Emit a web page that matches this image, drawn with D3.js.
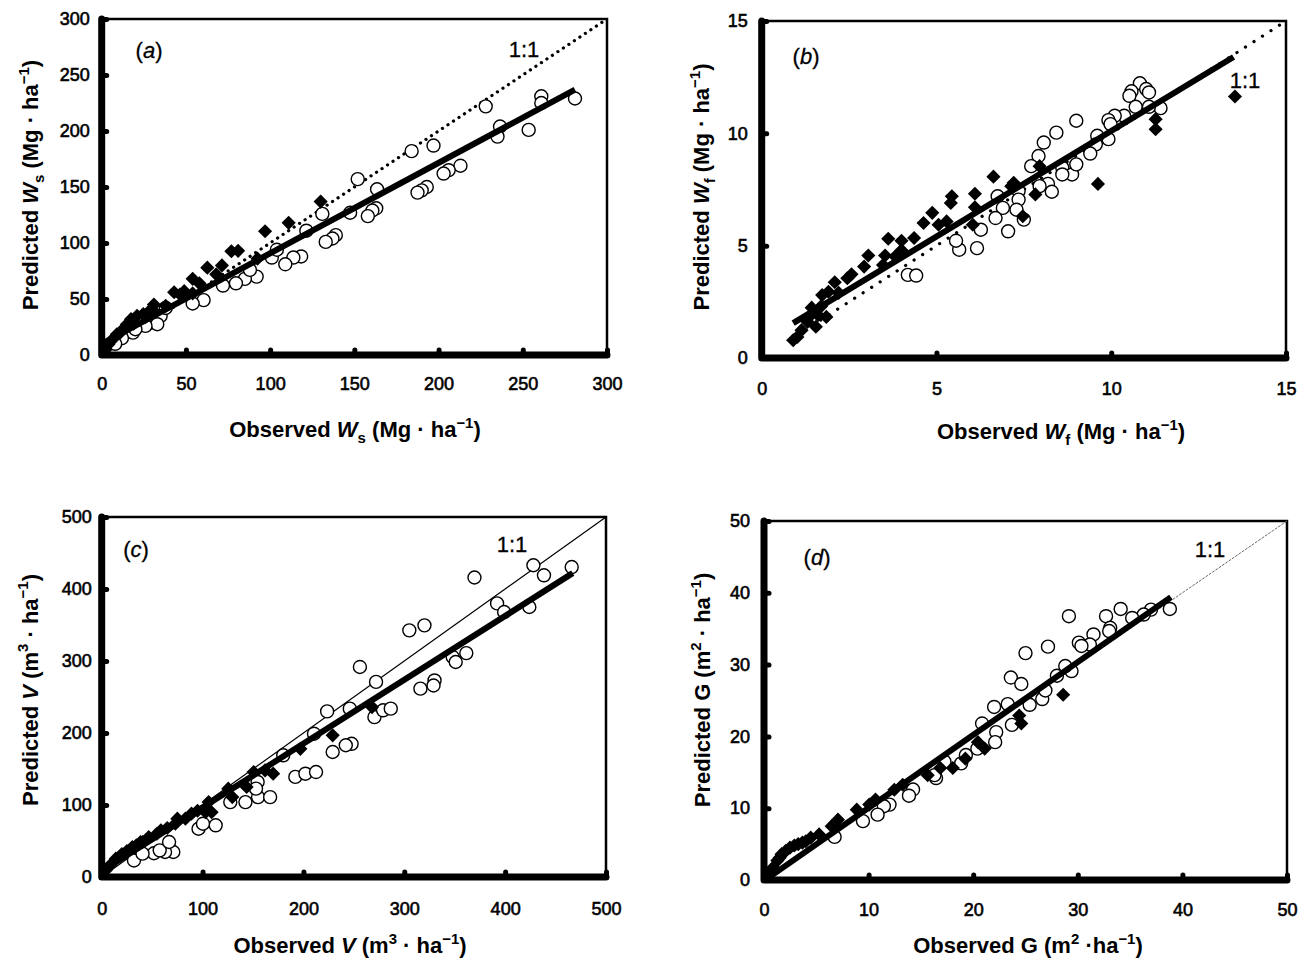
<!DOCTYPE html>
<html>
<head>
<meta charset="utf-8">
<script src="https://cdn.jsdelivr.net/npm/d3@7"></script>
<style>
  html, body { margin: 0; padding: 0; background: #fff; }
  svg { display: block; }
</style>
</head>
<body>
<svg id="fig" width="1305" height="967"></svg>
<script>
// ---------------- data ----------------
// (a) stem biomass Ws, Mg/ha
const ticksWs = [0, 50, 100, 150, 200, 250, 300];
const wsOpen = [
  [281,229],[261,231],[261,225],[253.5,201],[236.5,204],[235,195],[228,222],
  [197,187],[184,182],[213,169],[206,165],[203,162],[193,150],[190,147],[187.5,145],
  [152,157],[163.5,148],[163,131],[160.7,129],[158,124],[147.5,127],[131,126],
  [139,107],[137,104],[133,101],[121.5,111],[118.4,88],[113.8,87],[109,81],
  [101,87],[104,94],[92,70],[85,68],[79.7,64],[72,62],[88,76],[60.5,49],[54,46],
  [34,39],[35,35],[29.5,29],[33,27.5],[26,26],[18.6,20],[20,23],[38,42],[12,15],[8,10]
];
const wsSolid = [
  [130,137],[111,118],[97,110.5],[81,93],[77,92.6],[71.4,80],[62.7,78],[54,68],
  [58,64],[68,72],[43,56],[46.5,54],[49,57],[54,55],[31,45],[29.5,41],[24.7,36.5],
  [21,35],[17.4,32],[15,27.5],[12.6,23],[9,18.5],[6.5,14],[4,9.5],[2.4,5],[92.5,86],
  [38,44],[26,34],[19,28],[11,20]
];
const wsFit = [[0, 10], [281, 237]];
const wsOneToOne = [[0, 0], [300, 300]];

// (b) foliage biomass Wf, Mg/ha
const ticksWf = [0, 5, 10, 15];
const wfOpen = [
  [10.82,12.23],[10.58,11.87],[11.0,11.97],[11.08,11.82],[10.52,11.67],[10.7,11.18],
  [11.41,11.12],[11.08,11.18],[10.37,10.78],[10.1,10.78],[9.92,10.59],[9.98,10.41],
  [9.92,9.74],[9.6,9.89],[9.56,9.51],[9.4,9.1],[9.0,10.56],[8.43,10.03],[8.07,9.59],
  [7.92,8.99],[7.71,8.54],[8.6,8.47],[8.88,8.17],[8.6,8.17],[9.0,8.62],[8.19,7.75],
  [8.3,7.4],[7.95,7.65],[7.35,7.43],[7.35,7.05],[7.29,6.6],[7.5,6.16],[6.75,7.2],
  [6.9,6.68],[6.69,6.23],[7.05,5.64],[6.27,5.71],[6.16,4.89],[5.65,4.82],[5.56,5.22],
  [4.18,3.7],[4.42,3.67]
];
const wfSolid = [
  [13.54,11.64],[11.27,10.63],[11.27,10.18],[9.62,7.75],[7.95,8.54],[7.83,7.28],
  [7.47,6.31],[7.21,7.8],[7.14,7.65],[6.63,8.07],[6.1,7.31],[6.1,6.71],[6.04,5.93],
  [5.44,7.2],[5.41,6.9],[5.29,6.08],[5.06,5.93],[4.88,6.46],[4.63,6.01],[4.36,5.34],
  [4.0,5.22],[3.62,5.31],[3.53,4.56],[3.05,4.56],[2.93,4.07],[2.57,3.73],[2.09,3.37],
  [1.91,2.95],[1.73,2.8],[1.43,2.24],[1.61,1.91],[1.31,1.61],[1.55,1.39],[1.14,1.24],
  [0.9,0.79],[1.02,0.94],[1.85,1.83],[2.45,3.55],[3.47,4.14],[3.82,4.52],[4.0,4.8],
  [1.7,2.3],[2.2,2.9],[1.4,1.9]
];
const wfFit = [[0.9, 1.55], [13.5, 13.4]];
const wfOneToOne = [[1.2, 1.2], [15, 15]];

// (c) stand volume V, m3/ha
const ticksV = [0, 100, 200, 300, 400, 500];
const vOpen = [
  [466,430.5],[428,433],[438.5,419],[369.6,416],[424,375],[392,380],[399,368],
  [320,349.5],[305,342.6],[361.5,311],[348,305.6],[351,298.6],[256,291.7],[272,271],
  [330,273],[329,266],[316,261.6],[246,233.8],[223.5,230],[270.4,222],[279,231.5],
  [286.6,233.8],[210.5,199],[247.8,185],[242,183],[229,173.6],[180,169],[192,139],
  [202,143.5],[212.5,145.8],[154.6,132],[155,111],[167,111],[142.5,104],[127.5,104],
  [153,122.7],[113,71.8],[96,67],[100.4,74],[71,34.7],[62.8,34.7],[51.8,33],[57.5,37],
  [66.8,48.6],[32,23],[40.5,32.4]
];
const vSolid = [
  [268,236],[229,196.8],[197,178],[170,143.5],[162,148],[150.6,145.8],[143.7,125],
  [129.5,111],[125.5,122.7],[103,90],[109,90],[106,104],[89,88],[83,81],[75,81],
  [73,74],[58.7,64.8],[54.7,60],[46.6,55.6],[38.5,48.6],[30.4,41.7],[20,32],[14,25.5],
  [8,16],[4,9.3],[34.4,44],[40.5,48.6],[25,36],[65,68],[95,92]
];
const vFit = [[0, 8], [467, 422]];
const vOneToOne = [[0, 0], [500, 500]];

// (d) basal area G, m2/ha
const ticksG = [0, 10, 20, 30, 40, 50];
const gOpen = [
  [38.8,37.75],[37.0,37.66],[36.3,36.97],[35.2,36.5],[34.1,37.75],[32.7,36.74],
  [29.15,36.74],[33.1,35.13],[33.0,34.67],[31.5,34.2],[31.15,32.8],[30.1,33.06],
  [30.35,32.6],[27.15,32.5],[25.0,31.6],[23.6,28.2],[24.6,27.3],[29.4,29.1],[28.8,29.8],
  [28.0,28.45],[25.4,24.4],[26.6,25.2],[26.9,26.4],[23.3,24.5],[22.0,24.1],[22.2,20.6],
  [22.1,19.2],[20.85,21.8],[23.7,21.6],[20.4,18.3],[19.3,17.4],[18.85,16.25],
  [17.25,16.5],[16.45,14.2],[16.3,14.6],[14.25,12.6],[13.86,11.74],[12.0,10.5],
  [11.46,10.27],[10.86,9.1],[9.46,8.2],[6.75,6.0]
];
const gSolid = [
  [28.6,25.8],[24.4,22.9],[24.6,21.8],[21.1,18.3],[20.45,19.2],[19.25,16.9],
  [18.05,15.6],[16.85,15.6],[15.65,14.6],[13.26,13.26],[12.46,12.57],[10.66,11.2],
  [10.06,10.5],[8.87,9.8],[7.07,8.4],[6.47,7.5],[5.27,6.35],[4.47,5.9],[3.27,5.0],
  [2.48,4.5],[1.68,3.6],[1.28,2.7],[0.88,1.75],[0.48,0.8],[3.67,5.2],[2.08,4.05],
  [4.0,5.4],[2.9,4.8],[1.5,3.1]
];
const gFit = [[0.5, 0.4], [38.9, 39.4]];
const gOneToOne = [[0, 0], [50, 50]];

// ---------------- panel layout ----------------
const panels = [
  {
    tag: "a", max: 300, ticks: ticksWs, open: wsOpen, solid: wsSolid, fit: wsFit, ref: wsOneToOne,
    box: { left: 101.7, right: 607, top: 19, bottom: 355 },
    refStyle: { width: 3.2, dash: "0.1,6.5", color: "#000" },
    xPad: 22, yPad: 12,
    tagPos: [149, 58], onePos: [524, 57],
    xTitle: [{ t: "Observed " }, { t: "W", i: 1 }, { t: "s", sub: 1 }, { t: " (Mg · ha" }, { t: "−1", sup: 1 }, { t: ")" }],
    yTitle: [{ t: "Predicted " }, { t: "W", i: 1 }, { t: "s", sub: 1 }, { t: " (Mg · ha" }, { t: "−1", sup: 1 }, { t: ")" }],
    xTitlePos: [355, 437], yTitlePos: [38, 185]
  },
  {
    tag: "b", max: 15, ticks: ticksWf, open: wfOpen, solid: wfSolid, fit: wfFit, ref: wfOneToOne,
    box: { left: 761.7, right: 1286, top: 21, bottom: 358 },
    refStyle: { width: 3.2, dash: "0.1,10", color: "#000" },
    xPad: 24, yPad: 14,
    tagPos: [806, 64], onePos: [1245, 88],
    xTitle: [{ t: "Observed " }, { t: "W", i: 1 }, { t: "f", sub: 1 }, { t: " (Mg · ha" }, { t: "−1", sup: 1 }, { t: ")" }],
    yTitle: [{ t: "Predicted " }, { t: "W", i: 1 }, { t: "f", sub: 1 }, { t: " (Mg · ha" }, { t: "−1", sup: 1 }, { t: ")" }],
    xTitlePos: [1061, 439], yTitlePos: [709, 187]
  },
  {
    tag: "c", max: 500, ticks: ticksV, open: vOpen, solid: vSolid, fit: vFit, ref: vOneToOne,
    box: { left: 101.7, right: 606, top: 517, bottom: 877 },
    refStyle: { width: 1.2, dash: null, color: "#000" },
    xPad: 25, yPad: 10,
    tagPos: [136, 557], onePos: [512, 552],
    xTitle: [{ t: "Observed " }, { t: "V", i: 1 }, { t: " (m" }, { t: "3", sup: 1 }, { t: " · ha" }, { t: "−1", sup: 1 }, { t: ")" }],
    yTitle: [{ t: "Predicted " }, { t: "V", i: 1 }, { t: " (m" }, { t: "3", sup: 1 }, { t: " · ha" }, { t: "−1", sup: 1 }, { t: ")" }],
    xTitlePos: [350, 953], yTitlePos: [37.5, 690]
  },
  {
    tag: "d", max: 50, ticks: ticksG, open: gOpen, solid: gSolid, fit: gFit, ref: gOneToOne,
    box: { left: 764, right: 1287, top: 521, bottom: 880 },
    refStyle: { width: 1, dash: "2,2", color: "#666" },
    xPad: 23, yPad: 14,
    tagPos: [817, 565], onePos: [1210, 557],
    xTitle: [{ t: "Observed G (m" }, { t: "2", sup: 1 }, { t: " ·ha" }, { t: "−1", sup: 1 }, { t: ")" }],
    yTitle: [{ t: "Predicted G (m" }, { t: "2", sup: 1 }, { t: " · ha" }, { t: "−1", sup: 1 }, { t: ")" }],
    xTitlePos: [1028, 953], yTitlePos: [710, 690]
  }
];

const FONT = "'Liberation Sans', Arial, Helvetica, sans-serif";
const svg = d3.select("#fig");
svg.append("rect").attr("width", 1305).attr("height", 967).attr("fill", "#fff");

// Build a text element whose parts may be italic, subscripted or superscripted.
function richText(parent, parts, size) {
  const t = parent.append("text")
    .attr("font-family", FONT)
    .attr("font-weight", "bold")
    .attr("font-size", size)
    .attr("fill", "#000")
    .attr("text-anchor", "middle");
  let shift = 0;
  parts.forEach(p => {
    let target = 0;
    if (p.sub) target = size * 0.28;
    if (p.sup) target = -size * 0.42;
    const sp = t.append("tspan").text(p.t).attr("dy", target - shift);
    shift = target;
    if (p.i) sp.attr("font-style", "italic");
    if (p.sub || p.sup) sp.attr("font-size", size * 0.68);
  });
  return t;
}

function drawPanel(cfg) {
  const b = cfg.box;
  const x = d3.scaleLinear().domain([0, cfg.max]).range([b.left, b.right]);
  const y = d3.scaleLinear().domain([0, cfg.max]).range([b.bottom, b.top]);
  const g = svg.append("g").attr("class", "panel-" + cfg.tag);
  const line = d3.line().x(d => x(d[0])).y(d => y(d[1]));

  // thin top and right frame
  g.append("path")
    .attr("d", `M${b.left},${b.top}H${b.right}V${b.bottom}`)
    .attr("fill", "none").attr("stroke", "#000").attr("stroke-width", 2.5);

  // 1:1 reference line
  const ref = g.append("path").datum(cfg.ref)
    .attr("d", line)
    .attr("fill", "none")
    .attr("stroke", cfg.refStyle.color)
    .attr("stroke-width", cfg.refStyle.width);
  if (cfg.refStyle.dash) ref.attr("stroke-dasharray", cfg.refStyle.dash).attr("stroke-linecap", "round");

  // open circles
  g.append("g").selectAll("circle").data(cfg.open).join("circle")
    .attr("cx", d => x(d[0])).attr("cy", d => y(d[1]))
    .attr("r", 6.5)
    .attr("fill", "#fff").attr("stroke", "#000").attr("stroke-width", 1.4);

  // fitted regression line
  g.append("path").datum(cfg.fit)
    .attr("d", line)
    .attr("fill", "none").attr("stroke", "#000").attr("stroke-width", 6)
    .attr("stroke-linecap", "butt");

  // filled diamonds
  const diamond = d3.symbol(d3.symbolSquare, 100);
  g.append("g").selectAll("path").data(cfg.solid).join("path")
    .attr("d", diamond)
    .attr("transform", d => `translate(${x(d[0])},${y(d[1])}) rotate(45)`)
    .attr("fill", "#000");

  // axes
  const xAxis = d3.axisBottom(x).tickValues(cfg.ticks).tickSize(-5).tickPadding(cfg.xPad).tickFormat(d3.format("d"));
  const yAxis = d3.axisLeft(y).tickValues(cfg.ticks).tickSize(-5).tickPadding(cfg.yPad).tickFormat(d3.format("d"));
  const gx = g.append("g").attr("transform", `translate(0,${b.bottom})`).call(xAxis);
  const gy = g.append("g").attr("transform", `translate(${b.left},0)`).call(yAxis);
  [gx, gy].forEach(a => {
    a.select(".domain").remove();
    a.selectAll(".tick line").attr("stroke", "#000").attr("stroke-width", 5).attr("stroke-linecap", "round");
    a.selectAll(".tick text").attr("font-family", FONT).attr("font-size", 18).attr("fill", "#000")
      .attr("stroke", "#000").attr("stroke-width", 0.6);
  });

  // heavy left and bottom axis lines
  g.append("path")
    .attr("d", `M${b.left},${b.top}V${b.bottom}H${b.right}`)
    .attr("fill", "none").attr("stroke", "#000").attr("stroke-width", 7)
    .attr("stroke-linejoin", "round").attr("stroke-linecap", "round");

  // panel tag and 1:1 label
  const tag = g.append("text").attr("x", cfg.tagPos[0]).attr("y", cfg.tagPos[1])
    .attr("font-family", FONT).attr("font-size", 22).attr("text-anchor", "middle")
    .attr("stroke", "#000").attr("stroke-width", 0.3);
  tag.append("tspan").text("(");
  tag.append("tspan").text(cfg.tag).attr("font-style", "italic");
  tag.append("tspan").text(")");
  g.append("text").attr("x", cfg.onePos[0]).attr("y", cfg.onePos[1])
    .attr("font-family", FONT).attr("font-size", 22).attr("text-anchor", "middle")
    .attr("stroke", "#000").attr("stroke-width", 0.3).text("1:1");

  // axis titles
  richText(g, cfg.xTitle, 22).attr("x", cfg.xTitlePos[0]).attr("y", cfg.xTitlePos[1]);
  richText(g, cfg.yTitle, 22)
    .attr("transform", `translate(${cfg.yTitlePos[0]},${cfg.yTitlePos[1]}) rotate(-90)`);
}

panels.forEach(drawPanel);
</script>
</body>
</html>
